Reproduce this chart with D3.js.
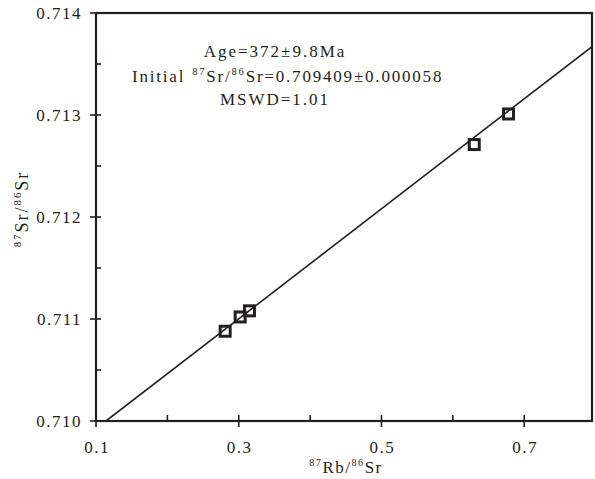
<!DOCTYPE html>
<html>
<head>
<meta charset="utf-8">
<script src="https://cdn.jsdelivr.net/npm/d3@7"></script>
<style>
  body { margin: 0; background: #fff; }
  text { font-family: "Liberation Serif", "Times New Roman", serif; fill: #231f20; }
</style>
</head>
<body>
<div id="chart"></div>
<script>
var width = 595
var height = 479

// samples
var rbSr = [0.281, 0.302, 0.315, 0.630, 0.678]
var srSr = [0.71088, 0.71102, 0.71108, 0.71271, 0.71301]

// isochron end points
var lineX = [0.114, 0.795]
var lineY = [0.710, 0.71367]

var xTicks = [0.1, 0.3, 0.5, 0.7]
var xMinor = [0.2, 0.4, 0.6]
var yTicks = [0.710, 0.711, 0.712, 0.713, 0.714]
var yMinor = [0.7105, 0.7115, 0.7125, 0.7135]

var plotL = 96, plotR = 592, plotT = 13, plotB = 421

var svg = d3.select("#chart")
    .append("svg")
    .attr("width", width)
    .attr("height", height)

var x = d3.scaleLinear().domain([0.1, 0.795]).range([plotL, plotR])
var y = d3.scaleLinear().domain([0.710, 0.714]).range([plotB, plotT])

var ink = "#231f20"

// isochron line
svg.append("defs").append("clipPath").attr("id", "clip")
    .append("rect").attr("x", plotL).attr("y", plotT)
    .attr("width", plotR - plotL).attr("height", plotB - plotT)

svg.append("line")
    .attr("clip-path", "url(#clip)")
    .attr("x1", x(lineX[0])).attr("y1", y(lineY[0]))
    .attr("x2", x(lineX[1])).attr("y2", y(lineY[1]))
    .attr("stroke", ink)
    .attr("stroke-width", 1.6)

// frame
svg.append("rect")
    .attr("x", plotL).attr("y", plotT)
    .attr("width", plotR - plotL).attr("height", plotB - plotT)
    .attr("fill", "none")
    .attr("stroke", ink)
    .attr("stroke-width", 2.2)

// x ticks
svg.selectAll(".xt").data(xTicks).enter().append("line")
    .attr("x1", function (d) { return x(d) }).attr("x2", function (d) { return x(d) })
    .attr("y1", plotB - 6).attr("y2", plotB + 6)
    .attr("stroke", ink).attr("stroke-width", 1.6)
svg.selectAll(".xm").data(xMinor).enter().append("line")
    .attr("x1", function (d) { return x(d) }).attr("x2", function (d) { return x(d) })
    .attr("y1", plotB - 6).attr("y2", plotB)
    .attr("stroke", ink).attr("stroke-width", 1.6)
svg.selectAll(".xl").data(xTicks).enter().append("text")
    .attr("x", function (d) { return x(d) + 1 })
    .attr("y", 453)
    .attr("text-anchor", "middle")
    .attr("font-size", 17)
    .attr("letter-spacing", 1.5)
    .text(function (d) { return d3.format(".1f")(d) })

// y ticks
svg.selectAll(".yt").data(yTicks).enter().append("line")
    .attr("y1", function (d) { return y(d) }).attr("y2", function (d) { return y(d) })
    .attr("x1", plotL - 6).attr("x2", plotL + 5)
    .attr("stroke", ink).attr("stroke-width", 1.6)
svg.selectAll(".ym").data(yMinor).enter().append("line")
    .attr("y1", function (d) { return y(d) }).attr("y2", function (d) { return y(d) })
    .attr("x1", plotL).attr("x2", plotL + 5)
    .attr("stroke", ink).attr("stroke-width", 1.6)
svg.selectAll(".yl").data(yTicks).enter().append("text")
    .attr("x", 82)
    .attr("y", function (d) { return y(d) + 6 })
    .attr("text-anchor", "end")
    .attr("font-size", 17)
    .attr("letter-spacing", 1.5)
    .text(function (d) { return d3.format(".3f")(d) })

// sample squares
svg.selectAll(".pt").data(rbSr).enter().append("rect")
    .attr("x", function (d) { return x(d) - 5 })
    .attr("y", function (d, i) { return y(srSr[i]) - 5 })
    .attr("width", 10).attr("height", 10)
    .attr("fill", "none")
    .attr("stroke", ink)
    .attr("stroke-width", 3)

// label like 87Rb/86Sr with raised mass numbers
function isoLabel(t, a, b, size) {
    var s = size * 0.6, up = size * 0.4
    t.append("tspan").attr("font-size", s).attr("dy", -up).text("87")
    t.append("tspan").attr("dy", up).text(a + "/")
    t.append("tspan").attr("font-size", s).attr("dy", -up).text("86")
    t.append("tspan").attr("dy", up).text(b)
}

// axis titles
var xl = svg.append("text")
    .attr("x", 346).attr("y", 473)
    .attr("text-anchor", "middle")
    .attr("font-size", 17)
    .attr("letter-spacing", 1.5)
isoLabel(xl, "Rb", "Sr", 17)

var yl = svg.append("text")
    .attr("transform", "translate(28,209) rotate(-90)")
    .attr("text-anchor", "middle")
    .attr("font-size", 18)
    .attr("letter-spacing", 2)
isoLabel(yl, "Sr", "Sr", 18)

// annotation
svg.append("text")
    .attr("x", 275).attr("y", 57)
    .attr("text-anchor", "middle")
    .attr("font-size", 17)
    .attr("letter-spacing", 2)
    .text("Age=372±9.8Ma")

var ini = svg.append("text")
    .attr("x", 132).attr("y", 82)
    .attr("font-size", 17)
    .attr("letter-spacing", 1.8)
ini.append("tspan").text("Initial")
ini.append("tspan").attr("dx", 7).attr("font-size", 10.5).attr("dy", -7).text("87")
ini.append("tspan").attr("dy", 7).text("Sr/")
ini.append("tspan").attr("font-size", 10.5).attr("dy", -7).text("86")
ini.append("tspan").attr("dy", 7).text("Sr=0.709409±0.000058")

svg.append("text")
    .attr("x", 275).attr("y", 105)
    .attr("text-anchor", "middle")
    .attr("font-size", 17)
    .attr("letter-spacing", 2)
    .text("MSWD=1.01")
</script>
</body>
</html>
